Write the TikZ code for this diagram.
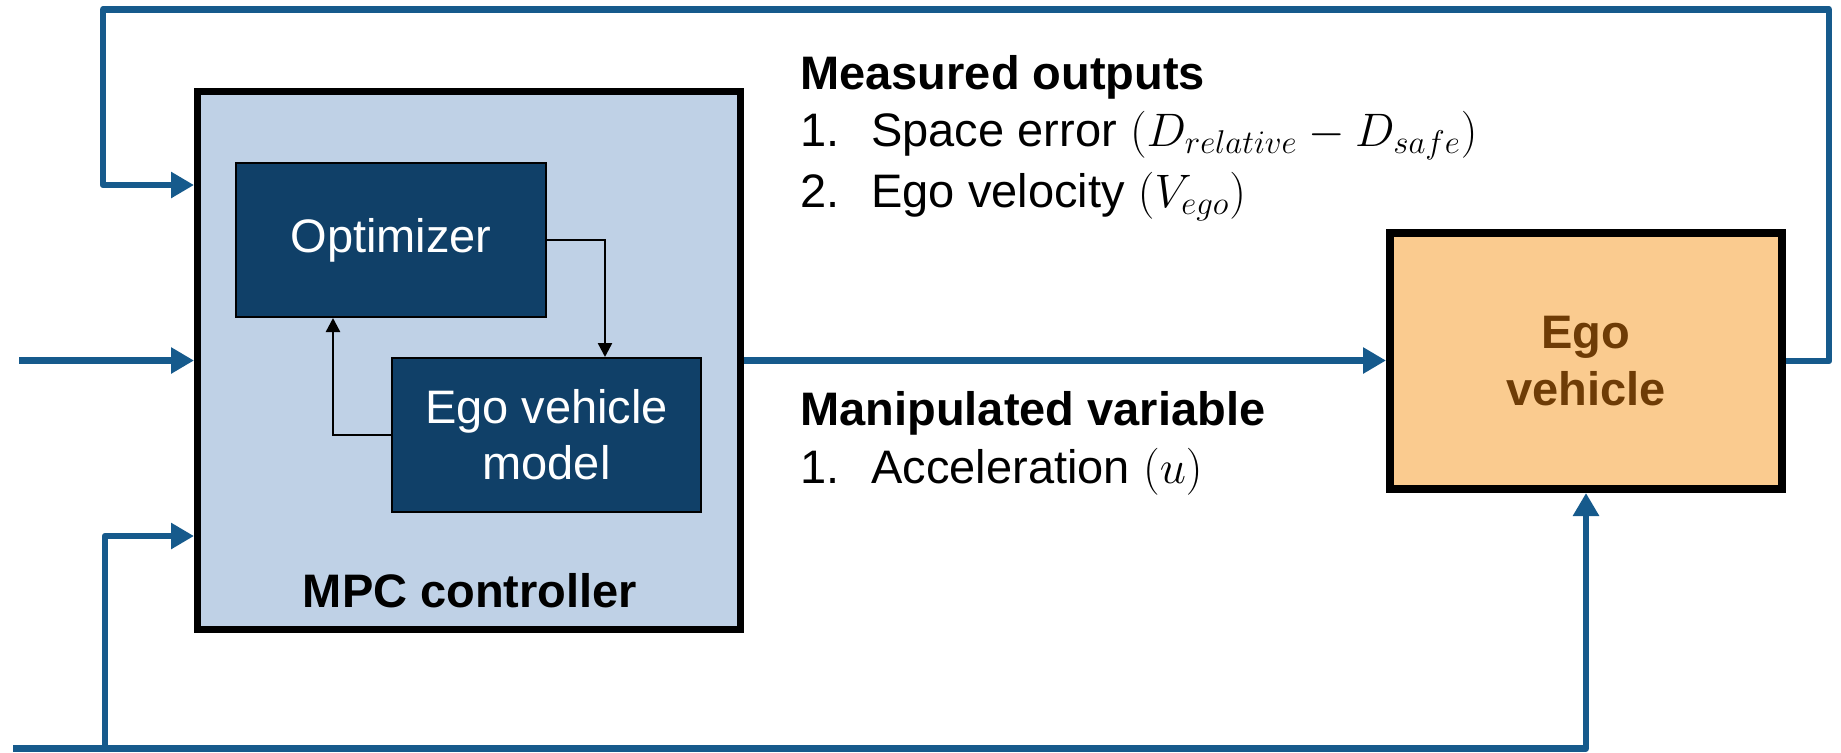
\RequirePackage{fix-cm}
\documentclass[tikz,border=0pt]{standalone}
\usepackage{fontspec}
\setmainfont{Liberation Sans}
\usetikzlibrary{arrows.meta}

\definecolor{linkblue}{RGB}{22,90,140}
\definecolor{mpcfill}{RGB}{191,209,230}
\definecolor{blockfill}{RGB}{16,64,104}
\definecolor{plantfill}{RGB}{250,203,143}
\definecolor{planttext}{RGB}{110,60,6}

\tikzset{
  bigfont/.style={font=\fontsize{23.5}{28}\selectfont},
  link/.style={draw=linkblue, line width=3.25pt, line join=round},
  linkarrow/.style={link, -{Triangle[length=11.5pt,width=12.5pt]}},
  inner/.style={draw=black, line width=1.2pt, -{Triangle[length=7pt,width=7pt]}},
  ctrlbox/.style={draw=black, fill=mpcfill, line width=3.5pt,
    minimum width=271.5pt, minimum height=269pt, inner sep=0pt},
  subblock/.style={draw=black, fill=blockfill, line width=1pt, text=white,
    bigfont, align=center, inner sep=0pt, minimum height=77pt},
  plant/.style={draw=black, fill=plantfill, line width=4pt, text=planttext,
    font=\fontsize{23.5}{28.5}\selectfont\bfseries, align=center,
    minimum width=196pt, minimum height=128pt, inner sep=0pt},
  txt/.style={bigfont, inner sep=0pt, anchor=base west},
}

\begin{document}
\begin{tikzpicture}[x=0.5pt, y=-0.5pt]
\useasboundingbox (0,0) rectangle (1841,752);

% controller and its inner blocks
\node[ctrlbox] (mpc) at (469,360.5) {};
\node[subblock, minimum width=155pt] (opt) at (391,240) {Optimizer};
\node[subblock, minimum width=154.5pt] (model) at (546.5,435) {Ego vehicle\\model};
\node[font=\fontsize{23.5}{28}\selectfont\bfseries, inner sep=0pt, anchor=base]
  (mpclabel) at (470,607) {MPC controller};

% plant
\node[plant] (ego) at (1586,361) {Ego\\vehicle};

% signal descriptions
\node[txt, font=\fontsize{23.5}{28}\selectfont\bfseries] (mo) at (800,89) {Measured outputs};
\node[txt] (mo1) at (800,146) {\makebox[35.5pt][l]{1.}Space error $(D_{relative} - D_{safe})$};
\node[txt] (mo2) at (800,207) {\makebox[35.5pt][l]{2.}Ego velocity $(V_{ego})$};
\node[txt, font=\fontsize{23.5}{28}\selectfont\bfseries] (mv) at (800,425) {Manipulated variable};
\node[txt] (mv1) at (800,483) {\makebox[35.5pt][l]{1.}Acceleration $(u)$};

% inner loop between optimizer and prediction model
\coordinate (c1) at (605,240);
\coordinate (c2) at (333,435);
\draw[inner] (opt.east) -- (c1) -- (c1 |- model.north);
\draw[inner] (model.west) -- (c2) -- (c2 |- opt.south);

% feedback of measured outputs
\coordinate (fbtr) at (1829,9.5);
\coordinate (fbtl) at (103,9.5);
\coordinate (in1) at (103,185);
\draw[linkarrow] (ego.east) -| (fbtr) -- (fbtl) -- (in1) -- (in1 -| mpc.west);

% reference input
\coordinate (src) at (19,360.5);
\draw[linkarrow] (src) -- (src -| mpc.west);

% manipulated variable to plant
\draw[linkarrow] (mpc.east) -- (mpc.east -| ego.west);

% lead vehicle signal along the bottom
\coordinate (bl) at (13,748.5);
\coordinate (br) at (1586,748.5);
\coordinate (bj) at (105,748.5);
\coordinate (in3) at (105,536);
\draw[linkarrow] (bl) -- (br) -- (ego.south);
\draw[linkarrow] (bj) -- (in3) -- (in3 -| mpc.west);
\end{tikzpicture}
\end{document}
